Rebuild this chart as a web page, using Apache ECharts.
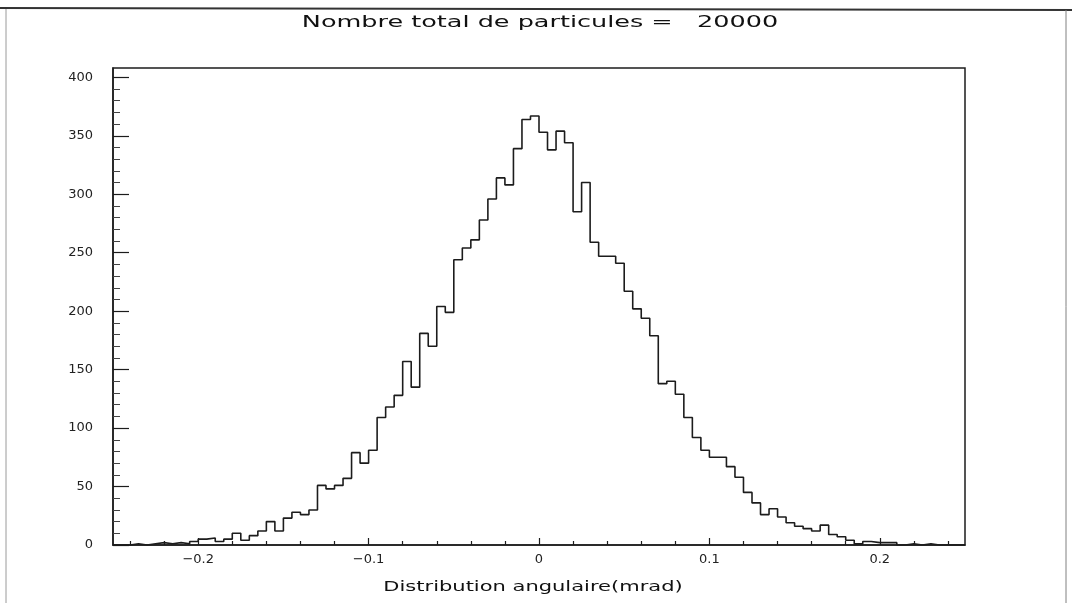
<!DOCTYPE html>
<html>
<head>
<meta charset="utf-8">
<title>Distribution angulaire</title>
<script src="https://cdn.jsdelivr.net/npm/echarts@6/dist/echarts.min.js"></script>
<style>
  html, body { margin: 0; padding: 0; background: #ffffff; }
  #chart { width: 1072px; height: 603px; }
</style>
</head>
<body>
<div id="chart"></div>
<script>
// Histogram of the angular distribution: 100 bins of 0.005 mrad from -0.25 to 0.25
const binStart = -0.25;
const binWidth = 0.005;
const counts = [
  0, 0, 1, 0, 1, 2, 1, 2, 1, 3,
  5, 6, 3, 5, 10, 4, 8, 12, 20, 12,
  23, 28, 26, 30, 51, 48, 51, 57, 79, 70,
  81, 109, 118, 128, 157, 135, 181, 170, 204, 199,
  244, 254, 261, 278, 296, 314, 308, 339, 364, 367,
  353, 338, 354, 344, 285, 310, 259, 247, 247, 241,
  217, 202, 194, 179, 138, 140, 129, 109, 92, 81,
  75, 75, 67, 58, 45, 36, 26, 31, 24, 19,
  16, 14, 12, 17, 9, 7, 4, 1, 3, 2,
  2, 2, 0, 1, 0, 1, 0, 0, 0, 0
];

// Axis ticks and labels
const xLabelValues = [-0.2, -0.1, 0, 0.1, 0.2];
const xMajorTicks = [-0.2, -0.1, 0, 0.1, 0.2];
const xMinorTicks = [-0.24, -0.22, -0.18, -0.16, -0.14, -0.12, -0.08, -0.06, -0.04, -0.02,
                     0.02, 0.04, 0.06, 0.08, 0.12, 0.14, 0.16, 0.18, 0.22, 0.24];
const yLabelValues = [0, 50, 100, 150, 200, 250, 300, 350, 400];
const yMinorTicks = [10, 20, 30, 40, 60, 70, 80, 90, 110, 120, 130, 140, 160, 170, 180, 190,
                     210, 220, 230, 240, 260, 270, 280, 290, 310, 320, 330, 340, 360, 370, 380, 390];

const titleText = 'Nombre total de particules =   20000';
const xAxisTitle = 'Distribution angulaire(mrad)';

// Step outline: each point sits on a bin's left edge, plus the closing right edge
const stepData = counts.map((c, i) => [binStart + i * binWidth, c]);
stepData.push([binStart + counts.length * binWidth, counts[counts.length - 1]]);

const ink = '#1c1c1c';
const labelFont = { fontFamily: 'DejaVu Sans', fontSize: 13, color: '#222' };

const chart = echarts.init(document.getElementById('chart'), null, { renderer: 'canvas' });

chart.setOption({
  animation: false,
  backgroundColor: '#ffffff',
  grid: {
    left: 113, right: 107, top: 68, bottom: 58,
    show: true, borderColor: ink, borderWidth: 1.5, backgroundColor: 'transparent'
  },
  xAxis: [
    {
      type: 'value', min: -0.25, max: 0.25, position: 'bottom',
      axisLine: { show: true, onZero: false, lineStyle: { color: ink, width: 1.5 } },
      splitLine: { show: false },
      axisTick: { show: true, inside: true, length: 7, customValues: xMajorTicks,
                  lineStyle: { color: ink, width: 1.2 } },
      axisLabel: {
        ...labelFont, margin: 8, customValues: xLabelValues,
        formatter: v => (v < 0 ? '\u2212' : '') + String(Math.abs(Math.round(v * 10) / 10))
      }
    },
    {
      type: 'value', min: -0.25, max: 0.25, position: 'bottom',
      axisLine: { show: false, onZero: false },
      splitLine: { show: false },
      axisTick: { show: true, inside: true, length: 4, customValues: xMinorTicks,
                  lineStyle: { color: ink, width: 1.2 } },
      axisLabel: { show: false }
    }
  ],
  yAxis: [
    {
      type: 'value', min: 0, max: 408, position: 'left',
      axisLine: { show: true, onZero: false, lineStyle: { color: ink, width: 1.5 } },
      splitLine: { show: false },
      axisTick: { show: true, inside: true, length: 16, customValues: yLabelValues,
                  lineStyle: { color: ink, width: 1.2 } },
      axisLabel: { ...labelFont, margin: 20, customValues: yLabelValues }
    },
    {
      type: 'value', min: 0, max: 408, position: 'left',
      axisLine: { show: false, onZero: false },
      splitLine: { show: false },
      axisTick: { show: true, inside: true, length: 7, customValues: yMinorTicks,
                  lineStyle: { color: '#444', width: 1 } },
      axisLabel: { show: false }
    }
  ],
  series: [{
    type: 'line',
    xAxisIndex: 0, yAxisIndex: 0,
    step: 'end',
    data: stepData,
    showSymbol: false,
    lineStyle: { color: ink, width: 1.6 },
    silent: true
  }],
  graphic: [
    // page frame
    { type: 'line', shape: { x1: 0, y1: 8, x2: 1072, y2: 10 },
      style: { stroke: '#333', lineWidth: 2 }, silent: true },
    { type: 'line', shape: { x1: 6, y1: 9, x2: 6, y2: 603 },
      style: { stroke: '#9a9a9a', lineWidth: 1 }, silent: true },
    { type: 'line', shape: { x1: 1066, y1: 10, x2: 1066, y2: 603 },
      style: { stroke: '#808080', lineWidth: 1 }, silent: true },
    // heading
    { type: 'text', x: 540, y: 23, scaleX: 1.7,
      style: { text: titleText, font: '15px "DejaVu Sans"', fill: '#111',
               textAlign: 'center', textVerticalAlign: 'middle' }, silent: true },
    // x-axis name
    { type: 'text', x: 533, y: 587, scaleX: 1.5,
      style: { text: xAxisTitle, font: '14px "DejaVu Sans"', fill: '#111',
               textAlign: 'center', textVerticalAlign: 'middle' }, silent: true }
  ]
});
</script>
</body>
</html>
